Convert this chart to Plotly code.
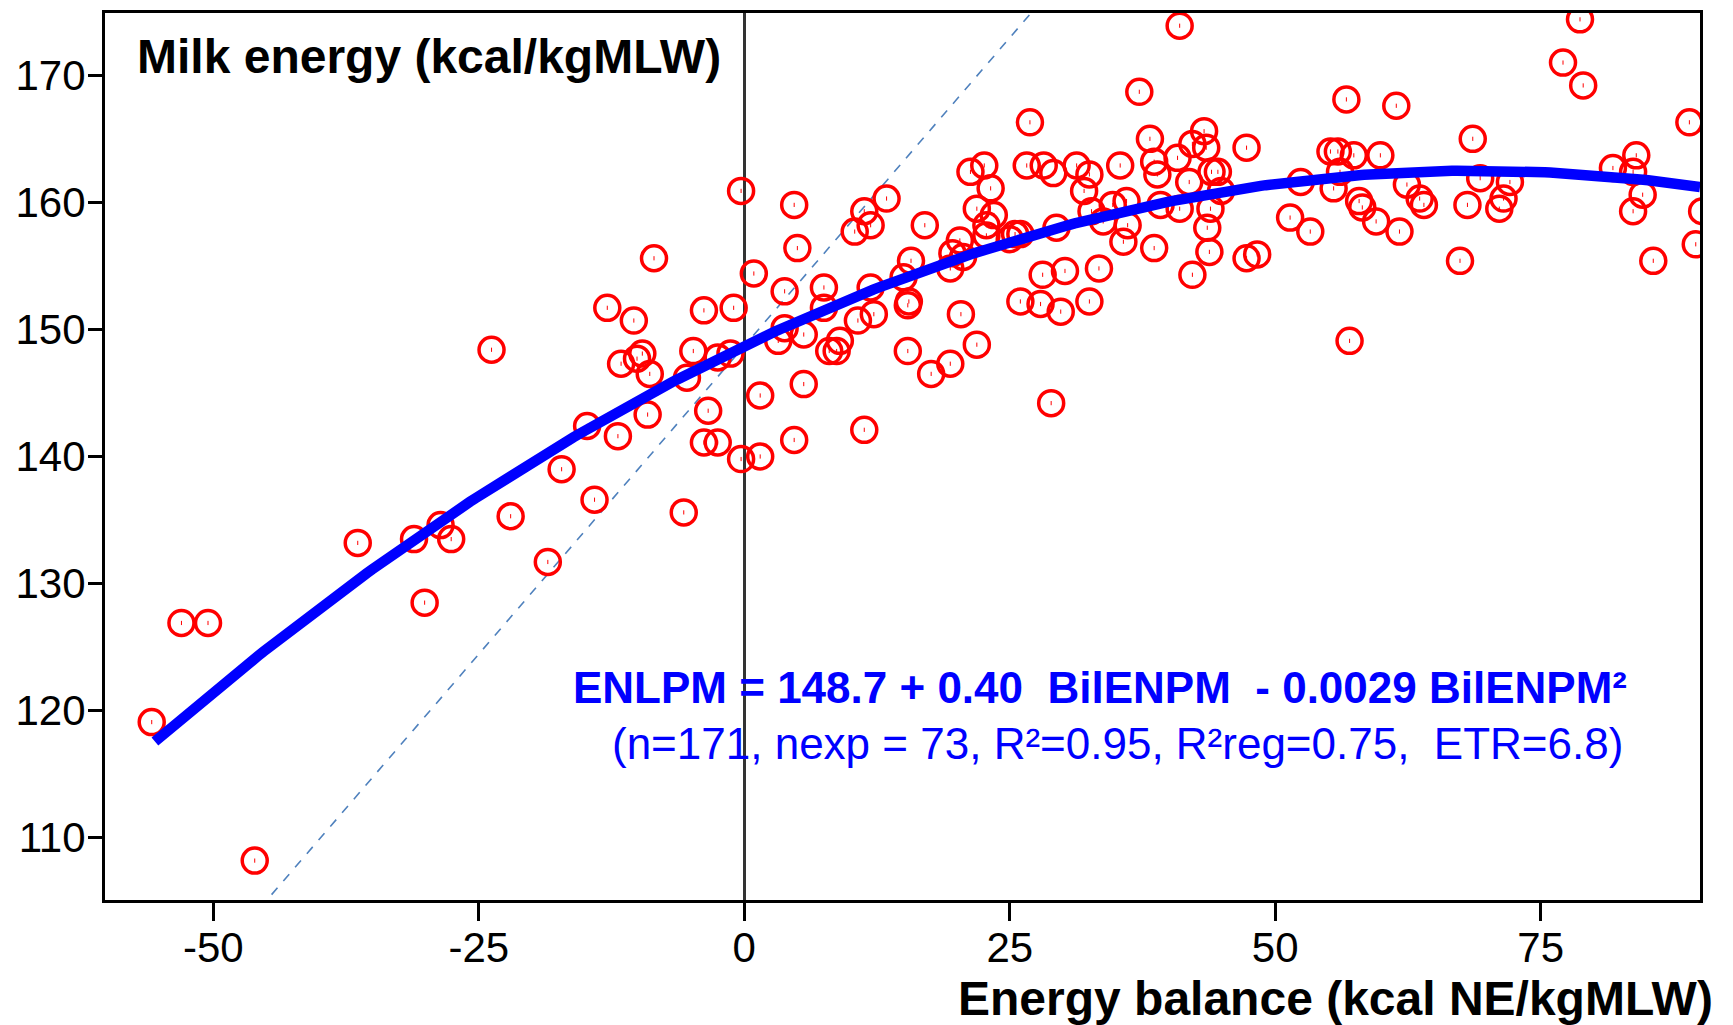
import plotly.graph_objects as go
import numpy as np

# ---- data ----
energy_balance = [
    -55.8, -53.0, -50.5, -46.1, -36.4, -31.1, -30.1, -28.6, -27.6, -23.8,
    -22.0, -18.5, -17.2, -14.8, -14.1, -12.9, -11.9, -11.6, -10.4, -10.1,
    -9.6, -9.1, -8.9, -8.5, -5.7, -5.4, -4.8, -3.8, -3.4, -3.8,
    -2.5, -2.5, -1.3, -1.0, -0.3, -0.3, 0.9,
    1.5, 1.5, 3.2, 3.8, 3.8, 4.7, 5.0, 4.7, 5.6, 5.6,
    7.5, 7.5, 8.0, 8.7, 9.0, 10.4, 10.7, 11.3, 11.3, 11.9,
    11.9, 12.2, 13.4, 15.0, 15.4, 15.5, 15.4, 15.7, 17.0, 17.6,
    19.4, 19.4, 19.6, 20.3, 20.4, 20.6, 21.3, 21.9, 21.9, 22.6,
    22.8, 22.8, 23.2, 23.5, 25.0, 25.5, 26.0, 26.0, 26.6, 26.9,
    27.9, 28.1, 28.2, 28.9, 29.1, 29.4, 29.8, 30.2, 31.3, 32.0,
    32.5, 32.5, 32.7, 33.4, 33.8, 34.7, 35.4, 35.7, 36.0, 36.1,
    37.2, 38.2, 38.6, 38.9, 38.6, 39.2, 40.8, 41.0, 41.0, 41.9,
    42.2, 42.2, 43.3, 43.5, 43.6, 43.8, 43.9, 44.0, 44.6, 44.9,
    47.3, 47.3, 48.3, 51.4, 52.4, 53.3, 55.2, 55.9, 55.5, 56.1,
    56.7, 57.0, 57.4, 57.9, 58.2, 59.5, 59.9, 61.4, 61.7, 62.4,
    63.6, 64.0, 67.4, 68.1, 68.6, 69.3, 71.1, 71.5, 72.1, 77.1,
    78.7, 79.0, 81.8, 83.7, 84.0, 84.6, 83.7, 85.6, 89.0, 89.6,
    90.2,
]
milk_energy = [
    119.1, 126.9, 126.9, 108.2, 133.2, 133.5, 128.5, 134.6, 133.5, 148.4,
    135.3, 131.7, 139.0, 142.4, 136.6, 151.7, 141.6, 147.3, 150.7, 147.7,
    148.1, 143.3, 146.5, 155.6, 135.6, 146.2, 148.3, 151.5, 143.6, 141.1,
    141.1, 147.8, 148.1, 151.7, 160.9, 139.8, 154.4,
    144.8, 140.0, 149.1, 150.1, 153.0, 159.8, 156.4, 141.3, 149.6, 145.7,
    153.3, 151.7, 148.3, 148.3, 149.1, 157.7, 150.7, 159.3, 142.1, 158.2,
    153.3, 151.2, 160.3, 154.1, 151.9, 152.2, 148.3, 155.4, 158.2, 146.5,
    147.3, 154.8, 156.0, 157.0, 151.2, 155.7, 162.4, 159.5, 148.8, 162.9,
    158.2, 157.4, 161.1, 159.0, 157.1, 157.5, 157.5, 152.2, 162.9, 166.3,
    152.0, 154.3, 162.9, 144.2, 162.3, 158.0, 151.4, 154.6, 162.9, 160.9,
    162.2, 152.2, 159.3, 154.8, 158.5, 159.8, 162.9, 156.9, 160.1, 158.2,
    168.7, 165.0, 163.2, 162.2, 156.4, 159.8, 163.5, 159.5, 173.9, 161.6,
    154.3, 164.6, 165.6, 164.3, 158.0, 156.1, 159.5, 162.4, 162.4, 160.9,
    164.3, 155.6, 155.9, 158.8, 161.6, 157.7, 164.0, 164.0, 161.1, 162.4,
    168.1, 149.1, 163.7, 160.1, 159.6, 158.5, 163.7, 167.6, 157.7, 161.4,
    160.3, 159.8, 155.4, 159.8, 165.0, 161.9, 159.5, 160.3, 161.6, 171.0,
    174.4, 169.2, 162.7, 162.4, 163.7, 160.6, 159.3, 155.4, 166.3, 156.7,
    159.3,
]

# fitted model: ENLPM = 148.7 + 0.40 BilENPM - 0.0029 BilENPM^2
fit_coef = [148.7, 0.40, -0.0029]
fit_x_range = [-55.5, 90.0]

# dashed reference line
ref_intercept = 148.7
ref_slope = 0.97
ref_x_range = [-60.0, 40.0]

x_ticks = [-50, -25, 0, 25, 50, 75]
y_ticks = [110, 120, 130, 140, 150, 160, 170]

title_text = "Milk energy (kcal/kgMLW)"
xaxis_text = "Energy balance (kcal NE/kgMLW)"
eq_line1 = "ENLPM = 148.7 + 0.40\u00a0\u00a0BilENPM\u00a0\u00a0- 0.0029 BilENPM²"
eq_line2 = "(n=171, nexp = 73, R²=0.95, R²reg=0.75,\u00a0\u00a0ETR=6.8)"

FONT = "Liberation Sans, Arial, sans-serif"

fit_x = np.linspace(fit_x_range[0], fit_x_range[1], 300)
fit_y = fit_coef[0] + fit_coef[1] * fit_x + fit_coef[2] * fit_x ** 2
ref_x = np.array(ref_x_range)
ref_y = ref_intercept + ref_slope * ref_x

fig = go.Figure()
fig.add_trace(go.Scatter(
    x=ref_x, y=ref_y, mode="lines",
    line=dict(color="#4f81bd", width=1.6, dash="dash"),
    hoverinfo="skip", showlegend=False))
fig.add_trace(go.Scatter(
    x=energy_balance, y=milk_energy, mode="markers",
    marker=dict(symbol="circle-open", size=25, color="#ff0000",
                line=dict(width=3.5, color="#ff0000")),
    showlegend=False))
fig.add_trace(go.Scatter(
    x=energy_balance, y=milk_energy, mode="markers",
    marker=dict(symbol="line-ns-open", size=3, color="#ff0000",
                line=dict(width=1, color="#ff0000")),
    hoverinfo="skip", showlegend=False))
fig.add_trace(go.Scatter(
    x=fit_x, y=fit_y, mode="lines",
    line=dict(color="#0000ff", width=10.5),
    showlegend=False))

fig.update_layout(
    width=1733, height=1025,
    margin=dict(l=105, r=33, t=10, b=125),
    paper_bgcolor="white", plot_bgcolor="white",
    font=dict(family=FONT, color="black"),
    showlegend=False,
    xaxis=dict(
        range=[-60.2, 90.0], tickvals=x_ticks, ticktext=[str(v) for v in x_ticks],
        showgrid=False, zeroline=True, zerolinecolor="#333333", zerolinewidth=2.5,
        showline=True, linecolor="black", linewidth=3, mirror=True,
        ticks="outside", ticklen=18, tickwidth=3, tickcolor="black",
        ticklabelstandoff=-9,
        tickfont=dict(size=42, family=FONT, color="black"),
    ),
    yaxis=dict(
        range=[105.1, 174.9], tickvals=y_ticks, ticktext=[str(v) for v in y_ticks],
        showgrid=False, zeroline=False,
        showline=True, linecolor="black", linewidth=3, mirror=True,
        ticks="outside", ticklen=14, tickwidth=3, tickcolor="black",
        ticklabelstandoff=-6,
        tickfont=dict(size=42, family=FONT, color="black"),
    ),
    annotations=[
        dict(text="<b>" + title_text + "</b>", xref="paper", yref="paper",
             x=0.0185, y=0.951, xanchor="left", yanchor="middle", showarrow=False,
             font=dict(size=48, family=FONT, color="black")),
        dict(text="<b>" + xaxis_text + "</b>", xref="paper", yref="paper",
             x=1.0094, y=-0.1115, xanchor="right", yanchor="middle", showarrow=False,
             font=dict(size=48, family=FONT, color="black")),
        dict(text="<b>" + eq_line1 + "</b>", xref="paper", yref="paper",
             x=0.6238, y=0.2393, xanchor="center", yanchor="middle", showarrow=False,
             font=dict(size=44, family=FONT, color="#0000ff")),
        dict(text=eq_line2, xref="paper", yref="paper",
             x=0.6345, y=0.1764, xanchor="center", yanchor="middle", showarrow=False,
             font=dict(size=44, family=FONT, color="#0000ff")),
    ],
)

fig.write_html("out.html")
